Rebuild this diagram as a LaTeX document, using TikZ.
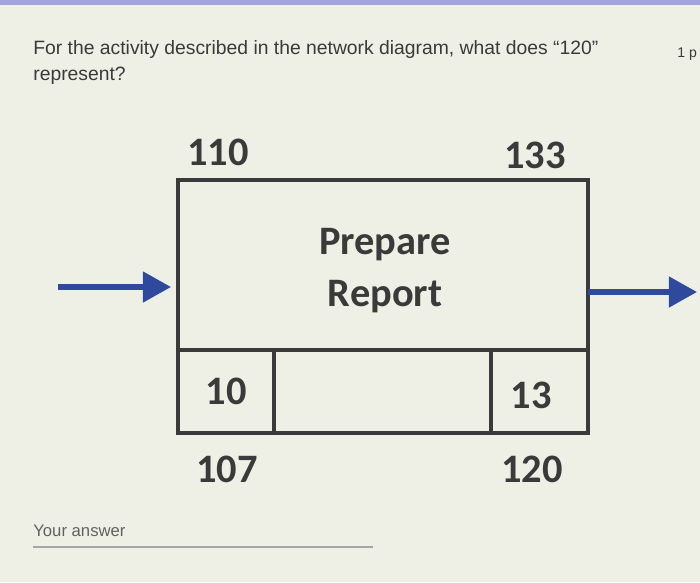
\documentclass[tikz,border=0pt]{standalone}
\usepackage{fontspec}
\setmainfont{Liberation Sans}
\newfontfamily\boxfont{Carlito}
\usetikzlibrary{positioning, arrows.meta}

\definecolor{paper}{HTML}{EEF0E6}
\definecolor{band}{HTML}{A3A4D6}
\definecolor{ink}{HTML}{3A3A3A}
\definecolor{flowblue}{HTML}{2F4A9C}

\begin{document}
\begin{tikzpicture}[
    x=0.02cm, y=-0.02cm,
    cell/.style={
        rectangle,
        draw=ink,
        line width=2.4pt,
        minimum height=1.66cm,
        inner sep=0pt,
        outer sep=0pt,
        anchor=north west,
        font=\boxfont\bfseries\fontsize{23}{28}\selectfont,
        text=ink
    },
    num/.style={
        font=\boxfont\bfseries\fontsize{23}{28}\selectfont,
        text=ink,
        inner sep=0pt
    },
    flow/.style={
        -{Triangle[length=16pt, width=17pt]},
        draw=flowblue,
        line width=3pt
    },
    question/.style={
        anchor=base west,
        font=\fontsize{11}{13}\selectfont,
        text=ink,
        inner sep=0pt
    }
]
\useasboundingbox (0,0) rectangle (700,582);
\fill[paper] (0,0) rectangle (700,582);
\fill[band] (0,0) rectangle (700,5);

%% Question text
\node[question] (q1) at (33,54) {For the activity described in the network diagram, what does “120”};
\node[question] (q2) at (33,80) {represent?};
\node[question, font=\fontsize{8}{10}\selectfont] (pts) at (677,57) {1 p};

%% Activity box
\node[rectangle, draw=ink, line width=2.4pt, outer sep=0pt,
      minimum width=8.2cm, minimum height=3.4cm] (task) at (383,265) {};
\node[align=center, text=ink, inner sep=0pt,
      font=\boxfont\bfseries\fontsize{23}{29.6}\selectfont] (title) at (385,271) {Prepare\\Report};
\node[cell, minimum width=1.92cm] (es) at (task.south west) {10};
\node[cell, minimum width=4.34cm] (mid) at (es.north east) {};
\node[cell, minimum width=1.94cm] (dur) at (mid.north east) {};
\node[num] (durtext) at (531,395) {13};

%% Numbers round the box
\node[num] (start) at (218,152) {110};
\node[num] (late) at (535,155) {133};
\node[num] (early) at (227,469) {107};
\node[num] (finish) at (532,469) {120};

%% Arrows
\coordinate (src) at (58,287);
\coordinate (sink) at (697,292);
\draw[flow] (src) -- ([xshift=-4pt]src -| task.west);
\draw[flow] (task.east |- sink) -- (sink);

%% Answer field
\node[anchor=base west, inner sep=0pt, text=ink!80, font=\fontsize{9.5}{12}\selectfont] (answer) at (33,536) {Your answer};
\coordinate (lineend) at (373,547);
\draw[gray!70, line width=0.6pt] (answer.south west |- lineend) -- (lineend);
\end{tikzpicture}
\end{document}
